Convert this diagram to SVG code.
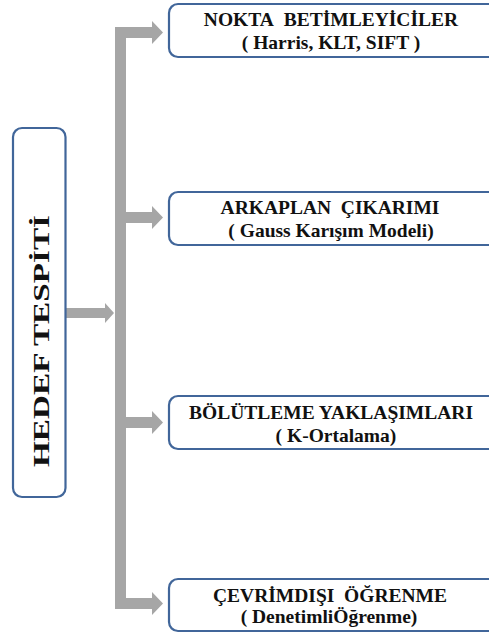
<svg xmlns="http://www.w3.org/2000/svg" width="489" height="635" viewBox="0 0 489 635">
  <style>
    .box { fill: #ffffff; stroke: #41669a; stroke-width: 2.2; }
    .lbl { font-family: "Liberation Serif", "Times New Roman", "DejaVu Serif", serif; font-weight: bold; font-size: 19.5px; fill: #111111; text-anchor: middle; }
    .conn { fill: #a6a6a6; stroke: none; }
  </style>
  <rect width="489" height="635" fill="#ffffff"/>

  <!-- connectors: trunk, elbows and branch arrows -->
  <g id="connectors">
    <!-- from the root box into the trunk -->
    <polygon class="conn" points="66,308 105,308 105,303 114,313 105,323 105,318 66,318"/>
    <!-- vertical trunk with top and bottom elbows -->
    <polygon class="conn" points="115,27 152,27 152,21 163,32.5 152,44 152,38 126,38 126,598 152,598 152,592 163,603.5 152,615 152,609 115,609"/>
    <!-- middle branches -->
    <polygon class="conn" points="126,212 152,212 152,206 163,217.5 152,229 152,223 126,223"/>
    <polygon class="conn" points="126,417 152,417 152,411 163,422.5 152,434 152,428 126,428"/>
  </g>

  <g id="root">
    <rect class="box" x="13" y="128" width="52.5" height="369" rx="9"/>
    <text class="lbl" transform="translate(49,341) rotate(-90)" style="font-size:24px" textLength="252" lengthAdjust="spacingAndGlyphs">HEDEF TESPİTİ</text>
  </g>

  <g id="nokta">
    <rect class="box" x="169" y="4" width="330" height="53" rx="9"/>
    <text class="lbl" x="331" y="26">NOKTA&#160; BETİMLEYİCİLER</text>
    <text class="lbl" x="331" y="49">( Harris, KLT, SIFT )</text>
  </g>

  <g id="arkaplan">
    <rect class="box" x="169" y="192" width="330" height="53" rx="9"/>
    <text class="lbl" x="330" y="214">ARKAPLAN&#160; ÇIKARIMI</text>
    <text class="lbl" x="331" y="237">( Gauss Karışım Modeli)</text>
  </g>

  <g id="bolutleme">
    <rect class="box" x="169" y="396" width="330" height="53" rx="9"/>
    <text class="lbl" x="331" y="419">BÖLÜTLEME YAKLAŞIMLARI</text>
    <text class="lbl" x="336" y="442">( K-Ortalama)</text>
  </g>

  <g id="cevrimdisi">
    <rect class="box" x="169" y="579" width="330" height="52" rx="9"/>
    <text class="lbl" x="330" y="602">ÇEVRİMDIŞI&#160; ÖĞRENME</text>
    <text class="lbl" x="329" y="623">( DenetimliÖğrenme)</text>
  </g>
</svg>
